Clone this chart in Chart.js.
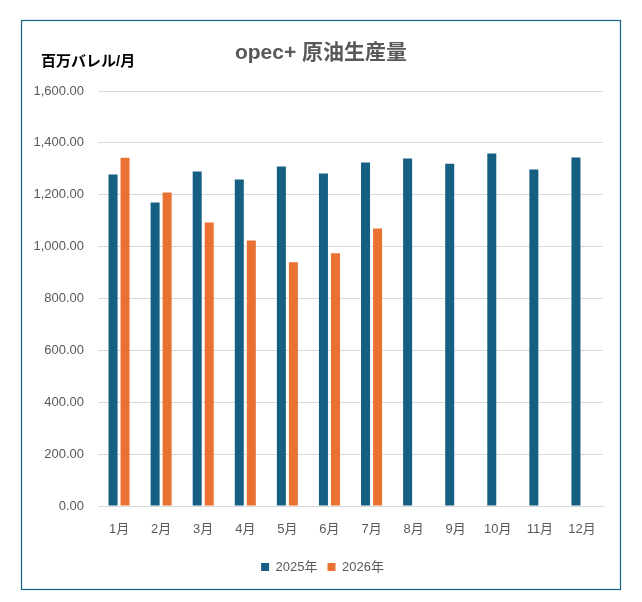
<!DOCTYPE html>
<html>
<head>
<meta charset="utf-8">
<script src="https://cdn.jsdelivr.net/npm/chart.js@4/dist/chart.umd.min.js"></script>
<style>
  html, body { margin: 0; padding: 0; background: #fff; }
  #wrap { width: 642px; height: 602px; }
</style>
</head>
<body>
<div id="wrap"><canvas id="chart"></canvas></div>
<script>
// --- data ---
const months = ["1月","2月","3月","4月","5月","6月","7月","8月","9月","10月","11月","12月"];
const series2025 = [1278, 1170, 1290, 1259, 1309, 1282, 1324, 1340, 1320, 1359, 1297, 1344];
const series2026 = [1343, 1209, 1093, 1024, 940, 974, 1070, null, null, null, null, null];
const seriesNames = ["2025年", "2026年"];
const yTicks = [0, 200, 400, 600, 800, 1000, 1200, 1400, 1600];

const FONT = '"Liberation Sans", Arial, "Noto Sans CJK JP", sans-serif';
const GREY = "#595959";

// frame + titles drawn on the canvas
const decor = {
  id: "decor",
  afterLayout(chart){
    // centre the legend under the whole frame, not the padded box
    if (chart.legend) { chart.legend.left += 6; chart.legend.right += 6; }
  },
  beforeDraw(chart){
    const c = chart.ctx;
    c.save();
    c.fillStyle = "#fff";
    c.fillRect(0, 0, chart.width, chart.height);
    c.strokeStyle = "#156082";
    c.lineWidth = 1.2;
    c.strokeRect(21.5, 20.5, 599, 569);
    c.restore();
  },
  afterDraw(chart){
    const c = chart.ctx;
    c.save();
    c.textBaseline = "middle";
    c.fillStyle = GREY;
    c.textAlign = "center";
    c.font = "bold 21px " + FONT;
    c.fillText("opec+ 原油生産量", 321, 53);
    c.fillStyle = "#000";
    c.textAlign = "left";
    c.font = "bold 15px " + FONT;
    c.fillText("百万バレル/月", 41, 62);
    c.restore();
  }
};

Chart.defaults.font.family = FONT;
Chart.defaults.color = GREY;

new Chart(document.getElementById("chart"), {
  type: "bar",
  data: {
    labels: months,
    datasets: [
      { label: seriesNames[0], data: series2025, backgroundColor: "#156082" },
      { label: seriesNames[1], data: series2026, backgroundColor: "#E97132" }
    ]
  },
  options: {
    responsive: true,
    maintainAspectRatio: false,
    animation: false,
    datasets: { bar: { categoryPercentage: 0.571, barPercentage: 0.75 } },
    layout: { padding: { left: 30, right: 39, top: 91, bottom: 18.5 } },
    scales: {
      x: {
        grid: { display: false, drawTicks: false },
        border: { color: "#d9d9d9" },
        ticks: { font: { size: 13 }, color: GREY, padding: 16, maxRotation: 0 },
        afterFit(s){ s.height = 44.5; }
      },
      y: {
        min: 0, max: 1600,
        afterBuildTicks(s){ s.ticks = yTicks.map(v => ({ value: v })); },
        grid: { color: "#d9d9d9", drawTicks: false },
        border: { display: false },
        ticks: {
          font: { size: 13 }, color: GREY, padding: 14,
          callback: v => v.toLocaleString("en-US", { minimumFractionDigits: 2, maximumFractionDigits: 2 })
        },
        afterFit(s){ s.width = 68; }
      }
    },
    plugins: {
      title: { display: false },
      tooltip: { enabled: false },
      legend: {
        position: "bottom",
        labels: { boxWidth: 8, boxHeight: 8, padding: 10, font: { size: 13 }, color: GREY }
      }
    }
  },
  plugins: [decor]
});
</script>
</body>
</html>
